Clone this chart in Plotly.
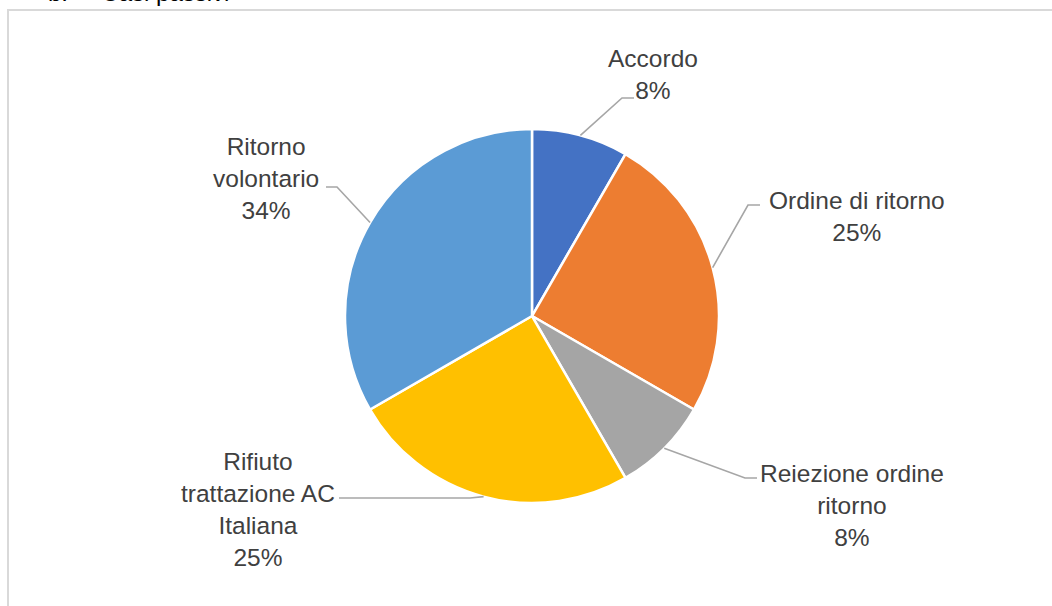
import math
import plotly.graph_objects as go

# ---- data ----
categories = ["Accordo", "Ordine di ritorno", "Reiezione ordine ritorno",
              "Rifiuto trattazione AC Italiana", "Ritorno volontario"]
label_text = ["Accordo", "Ordine di ritorno", "Reiezione ordine<br>ritorno",
              "Rifiuto<br>trattazione AC<br>Italiana", "Ritorno<br>volontario"]
values = [1, 3, 1, 3, 4]
pct_labels = ["8%", "25%", "8%", "25%", "34%"]
colors = ["#4472C4", "#ED7D31", "#A5A5A5", "#FFC000", "#5B9BD5"]

# ---- layout constants (pixels) ----
W, H = 1052, 606
cx, cy, R = 532, 316, 187
label_pos = [(653, 74), (857, 216), (852, 505), (258, 509), (266, 178)]
elbows = [((622, 98), (634, 98)), ((748, 205), (760, 205)),
          ((745, 478), (757, 478)), ((470, 498), (339, 498)),
          ((337, 187), (326, 187))]
FONT = "Liberation Sans, Arial, sans-serif"


def px(x):
    return x / W


def py(y):
    return 1 - y / H


fig = go.Figure(go.Pie(
    labels=categories, values=values, sort=False, direction="clockwise",
    rotation=0, textinfo="none", hoverinfo="none", showlegend=False,
    marker=dict(colors=colors, line=dict(color="white", width=2.5)),
    domain=dict(x=[px(cx - R), px(cx + R)], y=[py(cy + R), py(cy - R)]),
))

shapes = []
annotations = []
total = sum(values)
cum = 0
for i, v in enumerate(values):
    mid = (cum + v / 2) / total * 2 * math.pi
    cum += v
    ax = cx + R * math.sin(mid)
    ay = cy - R * math.cos(mid)
    (ex, ey), (fx, fy) = elbows[i]
    path = f"M {px(ax)} {py(ay)} L {px(ex)} {py(ey)} L {px(fx)} {py(fy)}"
    shapes.append(dict(type="path", xref="paper", yref="paper", path=path,
                       line=dict(color="#A6A6A6", width=1.6)))
    lx, ly = label_pos[i]
    annotations.append(dict(
        x=px(lx), y=py(ly), xref="paper", yref="paper",
        text=label_text[i] + "<br>" + pct_labels[i], showarrow=False,
        xanchor="center", yanchor="middle", align="center",
        font=dict(family=FONT, size=24.5, color="#404040")))

# chart area border (partially visible)
shapes.append(dict(type="rect", xref="paper", yref="paper",
                   x0=px(8), x1=px(W + 20), y0=py(H + 20), y1=py(10),
                   line=dict(color="#D9D9D9", width=2), fillcolor="rgba(0,0,0,0)"))

# heading cut off at top
annotations.append(dict(
    x=px(46), y=py(8), xref="paper", yref="paper", text="b.     Casi passivi",
    showarrow=False, xanchor="left", yanchor="bottom",
    font=dict(family=FONT, size=24, color="#000000")))

fig.update_layout(
    width=W, height=H, margin=dict(l=0, r=0, t=0, b=0),
    paper_bgcolor="white", plot_bgcolor="white",
    shapes=shapes, annotations=annotations,
)

fig.write_html("out.html", config={"displayModeBar": False},
               post_script="document.body.style.margin='0';")
